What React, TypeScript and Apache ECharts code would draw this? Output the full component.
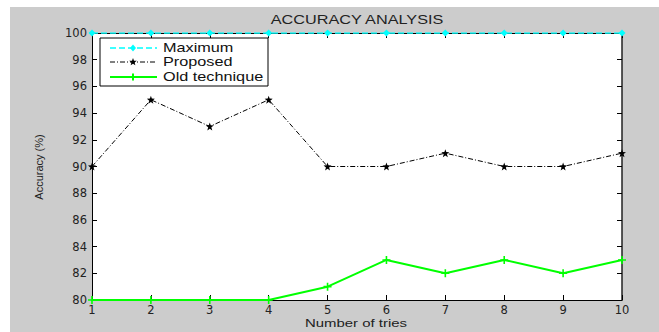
import React, { useEffect, useRef } from "react";
import * as echarts from "echarts";

// Trial numbers and accuracy values (%)
const tries = [1, 2, 3, 4, 5, 6, 7, 8, 9, 10];
const maximum = [100, 100, 100, 100, 100, 100, 100, 100, 100, 100];
const proposed = [90, 95, 93, 95, 90, 90, 91, 90, 90, 91];
const oldTechnique = [80, 80, 80, 80, 81, 83, 82, 83, 82, 83];
const seriesNames = ["Maximum", "Proposed", "Old technique"];

const W = 659;
const H = 332;
const FONT = "Liberation Sans, Arial, sans-serif";
const TICK_FONT = "DejaVu Sans, sans-serif";
const STRETCH = 1.3;

const CYAN = "#00ffff";
const GREEN = "#00ff00";

const STAR =
  "path://M5,0 L6.2,3.4 L10,3.6 L7,5.9 L8.1,9.6 L5,7.5 L1.9,9.6 L3,5.9 L0,3.6 L3.8,3.4 Z";
const PLUS = "path://M4,0 H6 V4 H10 V6 H6 V10 H4 V6 H0 V4 H4 Z";

function starPoints(cx: number, cy: number, r: number) {
  const pts: number[][] = [];
  for (let i = 0; i < 10; i++) {
    const a = -Math.PI / 2 + (i * Math.PI) / 5;
    const rr = i % 2 === 0 ? r : r * 0.42;
    pts.push([cx + rr * Math.cos(a), cy + rr * Math.sin(a)]);
  }
  return pts;
}

// Hand-built legend box (boxed, MATLAB-style)
function legendGraphics() {
  const x0 = 100;
  const y0 = 38;
  const rows = [48, 62, 77];
  const lx1 = 110;
  const lx2 = 157;
  const mx = 133;
  const els: any[] = [
    {
      type: "rect",
      shape: { x: x0, y: y0, width: 168, height: 48 },
      style: { fill: "#ffffff", stroke: "#000", lineWidth: 1 },
    },
    {
      type: "line",
      shape: { x1: lx1, y1: rows[0], x2: lx2, y2: rows[0] },
      style: { stroke: CYAN, lineWidth: 1.5, lineDash: [6, 3] },
    },
    {
      type: "polygon",
      shape: {
        points: [
          [mx, rows[0] - 3.5],
          [mx + 3, rows[0]],
          [mx, rows[0] + 3.5],
          [mx - 3, rows[0]],
        ],
      },
      style: { fill: CYAN },
    },
    {
      type: "line",
      shape: { x1: lx1, y1: rows[1], x2: lx2, y2: rows[1] },
      style: { stroke: "#000", lineWidth: 1, lineDash: [5, 2, 1, 2] },
    },
    {
      type: "polygon",
      shape: { points: starPoints(mx, rows[1], 4) },
      style: { fill: "#000" },
    },
    {
      type: "line",
      shape: { x1: lx1, y1: rows[2], x2: lx2, y2: rows[2] },
      style: { stroke: GREEN, lineWidth: 2 },
    },
    {
      type: "line",
      shape: { x1: mx, y1: rows[2] - 3.5, x2: mx, y2: rows[2] + 3.5 },
      style: { stroke: GREEN, lineWidth: 2 },
    },
  ];
  seriesNames.forEach((name, i) => {
    els.push({
      type: "text",
      x: 163,
      y: rows[i],
      scaleX: STRETCH,
      style: {
        text: name,
        fill: "#111",
        font: `12.5px ${FONT}`,
        align: "left",
        verticalAlign: "middle",
      },
    });
  });
  return { type: "group", z: 100, children: els };
}

export default function App() {
  const ref = useRef<HTMLDivElement>(null);

  useEffect(() => {
    if (!ref.current) return;
    const chart = echarts.init(ref.current, null, { renderer: "svg" });
    const pairs = (ys: number[]) => tries.map((x, i) => [x, ys[i]]);
    const tickStyle = { inside: true, length: 5, lineStyle: { color: "#000" } };
    const labelStyle = { color: "#222", fontSize: 11.5, fontFamily: TICK_FONT };

    chart.setOption({
      animation: false,
      backgroundColor: "#ffffff",
      textStyle: { fontFamily: FONT },
      graphic: [
        {
          type: "rect",
          z: -10,
          silent: true,
          shape: { x: 10, y: 7, width: W - 10, height: H - 7 },
          style: { fill: "#cccccc" },
        },
        {
          type: "text",
          x: 357,
          y: 20,
          scaleX: STRETCH,
          style: {
            text: "ACCURACY ANALYSIS",
            fill: "#222",
            font: `12.5px ${FONT}`,
            align: "center",
            verticalAlign: "middle",
          },
        },
        {
          type: "text",
          x: 356,
          y: 323,
          scaleX: STRETCH,
          style: {
            text: "Number of tries",
            fill: "#222",
            font: `11.5px ${FONT}`,
            align: "center",
            verticalAlign: "middle",
          },
        },
        {
          type: "text",
          x: 39,
          y: 167,
          rotation: Math.PI / 2,
          style: {
            text: "Accuracy (%)",
            fill: "#222",
            font: `11px ${FONT}`,
            align: "center",
            verticalAlign: "middle",
          },
        },
        legendGraphics(),
      ],
      grid: {
        left: 92,
        top: 33,
        right: W - 622,
        bottom: H - 300,
        show: true,
        backgroundColor: "#ffffff",
        borderWidth: 0,
      },
      xAxis: [
        {
          type: "value",
          min: 1,
          max: 10,
          interval: 1,
          axisLine: { lineStyle: { color: "#000" } },
          axisTick: tickStyle,
          axisLabel: { ...labelStyle, margin: 4 },
          splitLine: { show: false },
        },
        {
          type: "value",
          position: "top",
          min: 1,
          max: 10,
          interval: 1,
          axisLine: { lineStyle: { color: "#000" } },
          axisTick: tickStyle,
          axisLabel: { show: false },
          splitLine: { show: false },
        },
      ],
      yAxis: [
        {
          type: "value",
          min: 80,
          max: 100,
          interval: 2,
          axisLine: { show: true, lineStyle: { color: "#000" } },
          axisTick: tickStyle,
          axisLabel: { ...labelStyle, margin: 5 },
          splitLine: { show: false },
        },
        {
          type: "value",
          position: "right",
          min: 80,
          max: 100,
          interval: 2,
          axisLine: { show: true, lineStyle: { color: "#222", width: 1.5 } },
          axisTick: tickStyle,
          axisLabel: { show: false },
          splitLine: { show: false },
        },
      ],
      series: [
        {
          name: seriesNames[0],
          type: "line",
          data: pairs(maximum),
          symbol: "diamond",
          symbolSize: 7,
          lineStyle: { color: CYAN, width: 1.5, type: [6, 3] },
          itemStyle: { color: CYAN },
          z: 5,
        },
        {
          name: seriesNames[1],
          type: "line",
          data: pairs(proposed),
          symbol: STAR,
          symbolSize: 8,
          lineStyle: { color: "#000", width: 1, type: [5, 2, 1, 2] },
          itemStyle: { color: "#000" },
          z: 6,
        },
        {
          name: seriesNames[2],
          type: "line",
          data: pairs(oldTechnique),
          symbol: PLUS,
          symbolSize: 8,
          lineStyle: { color: GREEN, width: 2, type: "solid" },
          itemStyle: { color: GREEN },
          z: 7,
        },
      ],
    });

    return () => chart.dispose();
  }, []);

  return (
    <div
      ref={ref}
      style={{ position: "fixed", left: 0, top: 0, width: W, height: H }}
    />
  );
}
